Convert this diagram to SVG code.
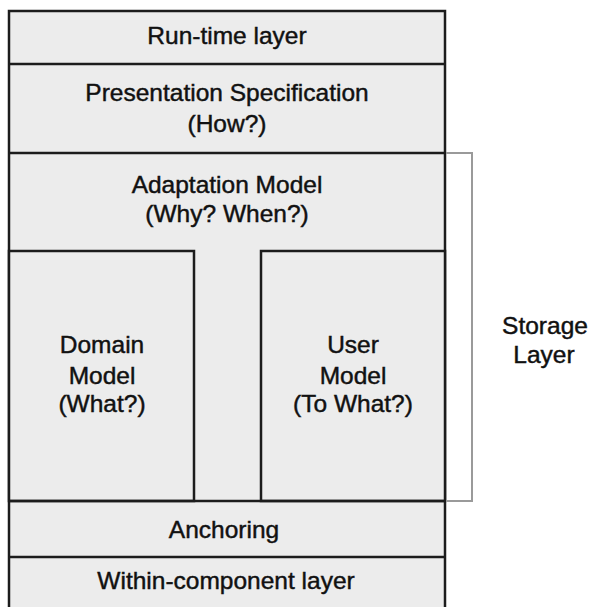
<svg xmlns="http://www.w3.org/2000/svg" width="590" height="607" viewBox="0 0 590 607">
<style>
.box{fill:#ececec;stroke:#1c1c1c;stroke-width:2.5}
.div{stroke:#1c1c1c;stroke-width:2.5;fill:none}
.t{font-family:"Liberation Sans",Arial,Helvetica,sans-serif;font-size:24.5px;fill:#111;stroke:#111;stroke-width:0.45;text-anchor:middle}
.br{fill:none;stroke:#9a9a9a;stroke-width:2}
</style>
<rect width="590" height="607" fill="#fff"/>
<g id="stack">
<rect class="box" x="9" y="11" width="436" height="620"/>
</g>
<g id="runtime">
<line class="div" x1="9" y1="64" x2="445" y2="64"/>
<text class="t" x="227" y="44">Run-time layer</text>
</g>
<g id="presentation">
<line class="div" x1="9" y1="153" x2="445" y2="153"/>
<text class="t" x="227" y="101">Presentation Specification</text>
<text class="t" x="227" y="132">(How?)</text>
</g>
<g id="adaptation">
<text class="t" x="227" y="193">Adaptation Model</text>
<text class="t" x="227" y="222">(Why? When?)</text>
</g>
<g id="domain">
<rect class="box" x="9" y="251" width="185" height="250"/>
<text class="t" x="102" y="353">Domain</text>
<text class="t" x="102" y="384">Model</text>
<text class="t" x="102" y="412">(What?)</text>
</g>
<g id="user">
<rect class="box" x="261" y="251" width="184" height="250"/>
<text class="t" x="353" y="353">User</text>
<text class="t" x="353" y="384">Model</text>
<text class="t" x="353" y="412">(To What?)</text>
</g>
<g id="anchoring">
<line class="div" x1="9" y1="501" x2="445" y2="501"/>
<text class="t" x="224" y="538">Anchoring</text>
</g>
<g id="within">
<line class="div" x1="9" y1="557" x2="445" y2="557"/>
<text class="t" x="226" y="589">Within-component layer</text>
</g>
<g id="connectors">
<polyline class="br" points="446,153 472,153 472,501 446,501"/>
</g>
<g id="storage">
<text class="t" x="545" y="334">Storage</text>
<text class="t" x="544" y="363">Layer</text>
</g>
</svg>
